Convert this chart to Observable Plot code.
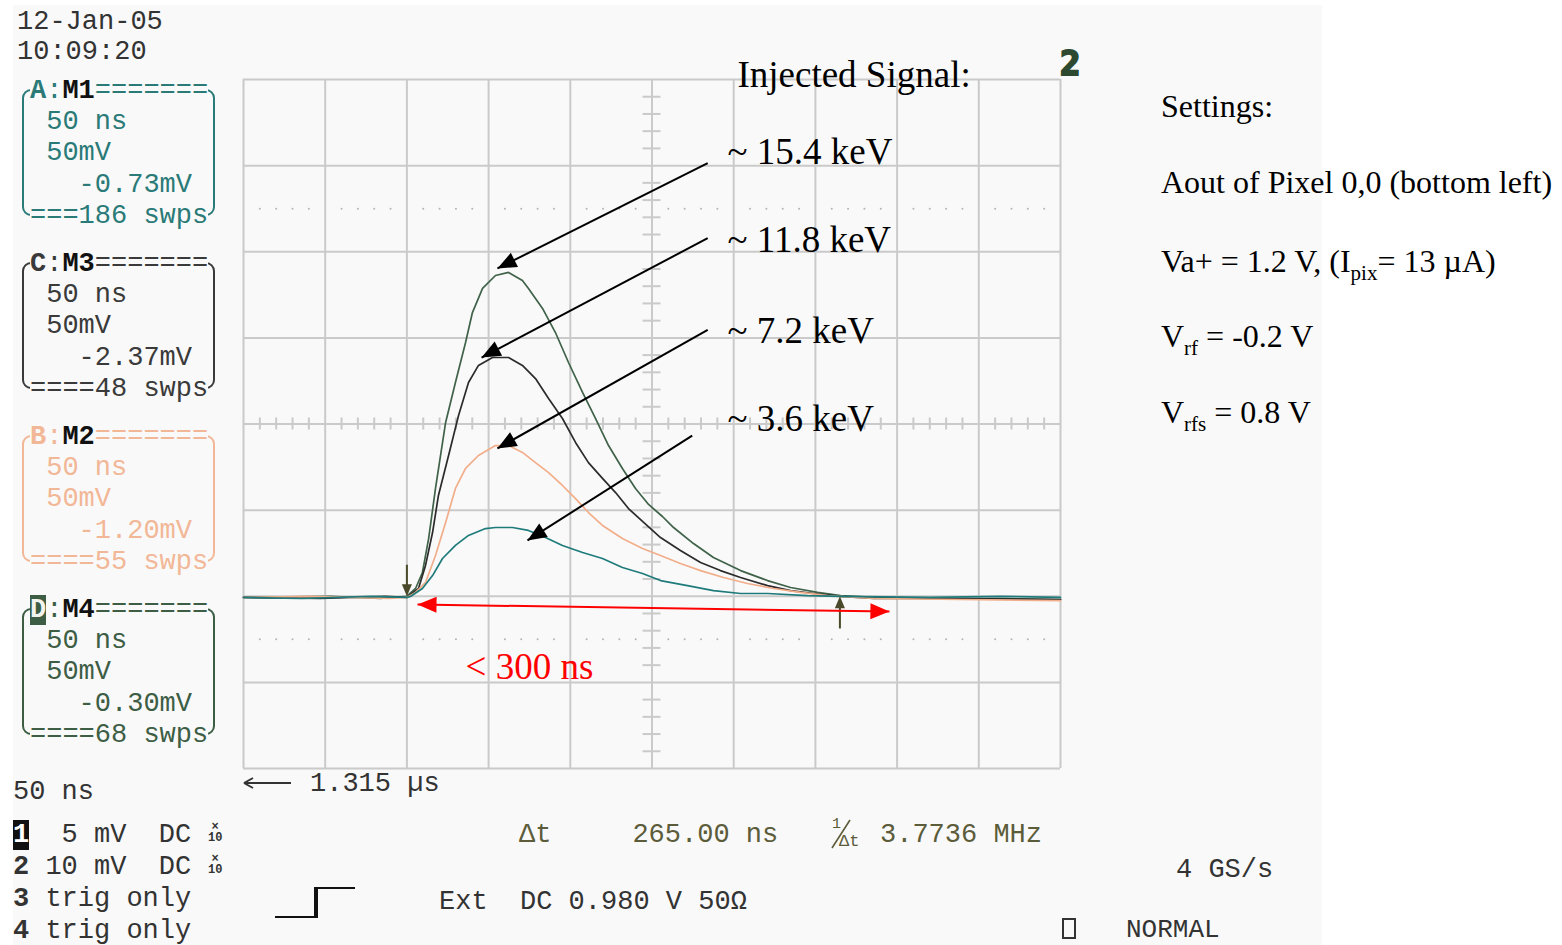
<!DOCTYPE html>
<html>
<head>
<meta charset="utf-8">
<script src="https://cdn.jsdelivr.net/npm/d3@7"></script>
<script src="https://cdn.jsdelivr.net/npm/@observablehq/plot@0.6"></script>
<style>
  html, body { margin: 0; padding: 0; background: #fff; }
  #stage { position: relative; width: 1562px; height: 945px; overflow: hidden; }
  #screen { position: absolute; left: 13px; top: 5px; width: 1309px; height: 940px; background: #f9f9f9; }
  #chart { position: absolute; left: 0; top: 0; }
  .mono { position: absolute; font-family: "Liberation Mono", "DejaVu Sans Mono", monospace; font-size: 27px; line-height: 27px; white-space: pre; color: #333; }
  .serif { position: absolute; font-family: "Liberation Serif", "Times New Roman", serif; font-size: 32px; line-height: 32px; white-space: pre; color: #000; }
  .serif .sub { font-size: 21px; position: relative; top: 8px; }
  .box { position: absolute; border: 2px solid; border-radius: 9px; box-sizing: border-box; }
</style>
</head>
<body>
<div id="stage"><div id="screen"></div><div id="chart"></div></div>
<script>
// Averaged output pulses of pixel 0,0 — time in ns after the trigger, amplitude in mV above baseline
const t154 = [-100, -46.8, -16.2, 0, 5.3, 9.5, 13.3, 17.5, 23.7, 29.7, 35.9, 40.1, 46.3, 54.2, 62.2, 70.7, 74.4, 83.0, 90.9, 98.9, 107.5, 115.4, 123.4, 131.9, 139.9, 147.9, 156.4, 163.2, 175.4, 187.6, 204.2, 220.7, 234.8, 251.3, 265.4, 285.6, 320.4, 363.3, 400];
const v154 = [-0.7, -0.1, -1.3, 0.0, 4.5, 13.8, 33.5, 62.6, 100.9, 124.1, 147.3, 164.7, 178.7, 186.2, 188.0, 183.3, 178.7, 167.1, 153.1, 135.7, 118.3, 103.2, 87.5, 74.2, 62.6, 53.3, 46.3, 39.9, 30.6, 22.5, 14.9, 9.1, 5.1, 2.2, 0.4, -0.7, -1.3, -1.3, -1.9];

const t118 = [-100, -52.9, -13.2, 0, 7.1, 11.4, 15.7, 19.3, 25.5, 31.6, 37.7, 43.8, 52.4, 62.2, 70.7, 78.7, 86.7, 95.2, 103.2, 111.1, 119.7, 127.7, 135.6, 144.2, 155.2, 167.4, 179.7, 191.9, 204.2, 220.7, 234.8, 248.8, 265.4, 285.6, 338.8, 400];
const v118 = [-0.7, -1.3, -0.1, -0.7, 4.5, 17.9, 37.0, 58.5, 81.7, 104.9, 124.1, 134.0, 138.6, 138.6, 134.0, 126.4, 114.8, 103.2, 89.3, 77.6, 68.4, 60.2, 50.9, 43.4, 34.1, 26.6, 19.6, 14.9, 10.9, 6.2, 3.3, 1.6, -0.1, -1.3, -1.3, -1.9];

const t72 = [-100, -59.0, -10.7, 0, 5.3, 11.4, 17.5, 23.7, 29.7, 35.9, 43.8, 54.2, 62.2, 70.7, 78.7, 86.7, 95.2, 103.2, 111.1, 119.7, 131.9, 144.2, 155.2, 167.4, 179.7, 193.8, 208.4, 224.4, 240.9, 257.4, 285.6, 338.8, 400];
const v72 = [-0.7, -0.1, -1.3, -0.7, 2.2, 8.0, 23.7, 42.8, 62.6, 74.2, 81.7, 87.5, 87.5, 83.5, 77.6, 71.8, 64.3, 56.7, 48.6, 41.1, 33.5, 27.7, 23.7, 19.0, 14.9, 10.9, 7.4, 4.5, 2.2, 0.4, -1.3, -1.9, -2.5];

const t36 = [-100, -65.1, -22.3, 0, 2.2, 9.5, 15.7, 21.8, 29.7, 37.7, 48.1, 54.2, 64.6, 74.4, 84.8, 95.2, 107.5, 119.7, 131.9, 144.2, 155.2, 171.7, 187.6, 204.2, 220.7, 245.2, 265.4, 320.4, 363.3, 400];
const v36 = [-0.7, -1.3, -0.1, -0.7, -0.1, 4.5, 12.0, 21.9, 29.5, 35.3, 39.3, 39.9, 39.9, 38.2, 34.1, 29.5, 25.4, 21.9, 16.7, 13.2, 9.1, 6.2, 3.3, 1.6, 1.6, 0.4, -0.1, -0.7, -0.1, -0.7];

// Injected-signal annotations: label, where the pointer starts and the pulse peak it points at
const energies = ["~ 15.4 keV", "~ 11.8 keV", "~ 7.2 keV", "~ 3.6 keV"];
const labelV = [251.2, 199.6, 147.3, 96.2];
const pointerFromT = [184.1, 184.1, 184.1, 174.6];
const pointerFromV = [251.4, 207.9, 154.7, 93.3];
const pointerToT = [55.4, 45.7, 55.4, 73.8];
const pointerToV = [190.3, 138.6, 85.8, 32.4];

// Time cursors (Δt) and the pulse-length span
const cursorT = [0, 265];
const spanT = [6.5, 295.3];
const spanV = [-4.8, -8.9];

// Memory trace panels
const boxLetters = ["A", "C", "B", "D"];
const memories = ["M1", "M3", "M2", "M4"];
const offsets = ["-0.73mV", "-2.37mV", "-1.20mV", "-0.30mV"];
const sweeps = [186, 48, 55, 68];
const boxColors = ["#2a7a78", "#3a3a3a", "#f2b796", "#3d5e45"];

const settingLines = [
  "Settings:",
  "Aout of Pixel 0,0 (bottom left)",
  'Va+ = 1.2 V, (I<span class="sub">pix</span>= 13 µA)',
  'V<span class="sub">rf</span> = -0.2 V',
  'V<span class="sub">rfs</span> = 0.8 V'
];

// ---- layout of the scope screen ----
const W = 1562, H = 945;
const M = {top: 79, right: 502, bottom: 177, left: 243};
const tDomain = [-100, 400];   // 50 ns / div, 10 div
const vDomain = [-100, 300];   // 50 mV / div, 8 div
const pxPerNs = (W - M.left - M.right) / (tDomain[1] - tDomain[0]);
const pxPerMv = (H - M.top - M.bottom) / (vDomain[1] - vDomain[0]);

const majorT = d3.range(tDomain[0], tDomain[1] + 1, 50);
const majorV = d3.range(vDomain[0], vDomain[1] + 1, 50);
const minorT = d3.range(tDomain[0], tDomain[1] + 1, 10).filter(t => Math.abs(t % 50) !== 0);
const minorV = d3.range(vDomain[0], vDomain[1] + 1, 10).filter(v => Math.abs(v % 50) !== 0);
const centerT = (tDomain[0] + tDomain[1]) / 2;
const centerV = (vDomain[0] + vDomain[1]) / 2;

// filled arrow head: tip at the origin, pointing up before rotation; length = r
const arrowHead = {
  draw(ctx, size) {
    const L = Math.sqrt(size / Math.PI), w = L * 0.42;
    ctx.moveTo(0, 0); ctx.lineTo(-w, L); ctx.lineTo(w, L); ctx.closePath();
  }
};
const headAngle = (t0, v0, t1, v1) => {
  const dx = (t1 - t0) * pxPerNs, dy = -(v1 - v0) * pxPerMv;
  return Math.atan2(dx, -dy) * 180 / Math.PI;
};

const traces = [
  {t: t154, v: v154, color: "#3f6249"},
  {t: t118, v: v118, color: "#2b2b2b"},
  {t: t72, v: v72, color: "#f2ae8a"},
  {t: t36, v: v36, color: "#1f7b7b"}
];

const pointers = energies.map((label, i) => ({
  label, labelV: labelV[i],
  x1: pointerFromT[i], y1: pointerFromV[i], x2: pointerToT[i], y2: pointerToV[i],
  angle: headAngle(pointerFromT[i], pointerFromV[i], pointerToT[i], pointerToV[i])
}));
const span = [
  {t: spanT[0], v: spanV[0], angle: headAngle(spanT[1], spanV[1], spanT[0], spanV[0])},
  {t: spanT[1], v: spanV[1], angle: headAngle(spanT[0], spanV[0], spanT[1], spanV[1])}
];
const cursors = [
  {t: cursorT[0], from: 18, to: 3, angle: 180},
  {t: cursorT[1], from: -19, to: -3, angle: 0}
];

const grid = "#cacaca", olive = "#4a4a2a", serif = "Liberation Serif, Times New Roman, serif";

const chart = Plot.plot({
  width: W, height: H,
  marginTop: M.top, marginRight: M.right, marginBottom: M.bottom, marginLeft: M.left,
  x: {domain: tDomain, axis: null},
  y: {domain: vDomain, axis: null},
  style: {background: "transparent", overflow: "visible"},
  marks: [
    Plot.ruleX(majorT, {x: d => d, stroke: grid, strokeWidth: 2}),
    Plot.ruleY(majorV, {y: d => d, stroke: grid, strokeWidth: 2}),
    Plot.ruleY(minorV, {y: d => d, x1: centerT - 5.5, x2: centerT + 5.5, stroke: grid, strokeWidth: 2}),
    Plot.ruleX(minorT, {x: d => d, y1: centerV - 3.5, y2: centerV + 3.5, stroke: grid, strokeWidth: 2}),
    Plot.dot(minorT, {x: d => d, y: () => centerV + 125, r: 1, fill: "#b4b4b4", stroke: "none"}),
    Plot.dot(minorT, {x: d => d, y: () => centerV - 125, r: 1, fill: "#b4b4b4", stroke: "none"}),
    ...traces.map(tr => Plot.line(tr.t.map((t, i) => ({t, v: tr.v[i]})), {x: "t", y: "v", stroke: tr.color, strokeWidth: 1.7})),
    // time cursors
    Plot.ruleX(cursors, {x: "t", y1: "from", y2: "to", stroke: olive, strokeWidth: 2}),
    Plot.dot(cursors, {x: "t", y: () => 0, symbol: arrowHead, r: 12, rotate: "angle", fill: olive, stroke: "none"}),
    // pulse length span
    Plot.link([0], {x1: () => spanT[0], y1: () => spanV[0], x2: () => spanT[1], y2: () => spanV[1], stroke: "#ff0000", strokeWidth: 2}),
    Plot.dot(span, {x: "t", y: "v", symbol: arrowHead, r: 19, rotate: "angle", fill: "#ff0000", stroke: "none"}),
    Plot.text(["< 300 ns"], {x: () => 35.9, y: () => -47.8, text: d => d, fill: "#ff0000", fontSize: 37, fontFamily: serif, textAnchor: "start", lineAnchor: "bottom"}),
    // energy pointers
    Plot.link(pointers, {x1: "x1", y1: "y1", x2: "x2", y2: "y2", stroke: "#000", strokeWidth: 2}),
    Plot.dot(pointers, {x: "x2", y: "y2", symbol: arrowHead, r: 19, rotate: "angle", fill: "#000", stroke: "none"}),
    Plot.text(pointers, {x: () => 196.2, y: "labelV", text: "label", fill: "#000", fontSize: 37, fontFamily: serif, textAnchor: "start", lineAnchor: "bottom"}),
    Plot.text(["Injected Signal:"], {x: () => 202.3, y: () => 295.4, text: d => d, fill: "#000", fontSize: 37, fontFamily: serif, textAnchor: "start", lineAnchor: "bottom"})
  ]
});
document.getElementById("chart").appendChild(chart);

// ---- scope read-outs around the screen ----
const stage = document.getElementById("stage");
function place(cls, x, top, html, css) {
  const el = document.createElement("div");
  el.className = cls;
  el.style.left = x + "px";
  el.style.top = top + "px";
  if (css) el.style.cssText += css;
  el.innerHTML = html;
  stage.appendChild(el);
  return el;
}
const MONO_MID = 11.8;   // line top to middle of capitals at 27px
const monoLine = (x, yMid, html, color, css) => place("mono", x, yMid - MONO_MID, html, (color ? `color:${color};` : "") + (css || ""));
const SERIF_BASE = 26.8; // line top to baseline at 32px
const serifLine = (x, base, html) => place("serif", x, base - SERIF_BASE, html);

monoLine(17, 21, "12-Jan-05");
monoLine(17, 51, "10:09:20");

boxLetters.forEach((letter, i) => {
  const top = 90 + i * 173, c = boxColors[i];
  place("box", 22, top - 1, "", `width:193px;height:127px;border-color:${c};`);
  const head = letter === "D"
    ? `<span style="background:${c};color:#f4f4ee;font-weight:bold">D</span>`
    : `<b>${letter}</b>`;
  monoLine(30, top, `${head}:<b style="color:#111">${memories[i]}</b>=======`, c, "background:#f9f9f9;");
  monoLine(30, top + 31, " 50 ns", c);
  monoLine(30, top + 62, " 50mV", c);
  monoLine(30, top + 94, "   " + offsets[i], c);
  const n = String(sweeps[i]);
  monoLine(30, top + 125, "=".repeat(6 - n.length) + n + " swps", c, "background:#f9f9f9;");
});

monoLine(13, 791, "50 ns");
place("mono", 243, 776, '<svg width="50" height="14"><path d="M1,7H48M1,7L10,2M1,7L10,12" stroke="#333" stroke-width="2" fill="none"/></svg>', "line-height:0;");
monoLine(310, 783, "1.315 µs");

monoLine(13, 834, '<span style="background:#111;color:#fff;font-weight:bold">1</span>  5 mV  DC');
monoLine(13, 866, "<b>2</b> 10 mV  DC");
monoLine(13, 898, "<b>3</b> trig only");
place("mono", 13, 929 - 9.3, "<b>4</b> trig only", "line-height:22px;");
[822, 854].forEach(top => place("mono", 208, top, "×<br>10", "font-size:12px;line-height:11px;font-weight:bold;text-align:center;"));

const dt = cursorT[1] - cursorT[0];
const readout = "#5c5c3a";
monoLine(519, 834, `Δt     ${dt.toFixed(2)} ns`, readout);
place("mono", 832, 817, "1", `font-size:15px;line-height:15px;color:${readout};`);
place("mono", 830, 818, '<svg width="22" height="32"><path d="M2,30L20,2" stroke="' + readout + '" stroke-width="1.6"/></svg>', "line-height:0;");
place("mono", 839, 833, "Δt", `font-size:17px;line-height:17px;color:${readout};`);
monoLine(880, 834, `${(1000 / dt).toFixed(4)} MHz`, readout);

monoLine(1176, 869, "4 GS/s");
place("mono", 275, 884, '<svg width="84" height="36"><path d="M0,33H41M80,4H41" stroke="#111" stroke-width="2"/><path d="M41,34V3" stroke="#111" stroke-width="4"/></svg>', "line-height:0;");
monoLine(439, 901, "Ext");
monoLine(520, 901, "DC 0.980 V 50Ω");
place("box", 1062, 918, "", "width:14px;height:21px;border-radius:0;border-color:#333;");
place("mono", 1126, 919, "NORMAL", "font-size:26px;line-height:22px;");
place("mono", 1060, 44, "2", "font-family:'DejaVu Sans Mono';font-size:34px;line-height:38px;font-weight:bold;color:#2d4a31;-webkit-text-stroke:2px #2d4a31;");

const settingBase = [117, 193, 272, 347, 423];
settingLines.forEach((html, i) => serifLine(1161, settingBase[i], html));
</script>
</body>
</html>
